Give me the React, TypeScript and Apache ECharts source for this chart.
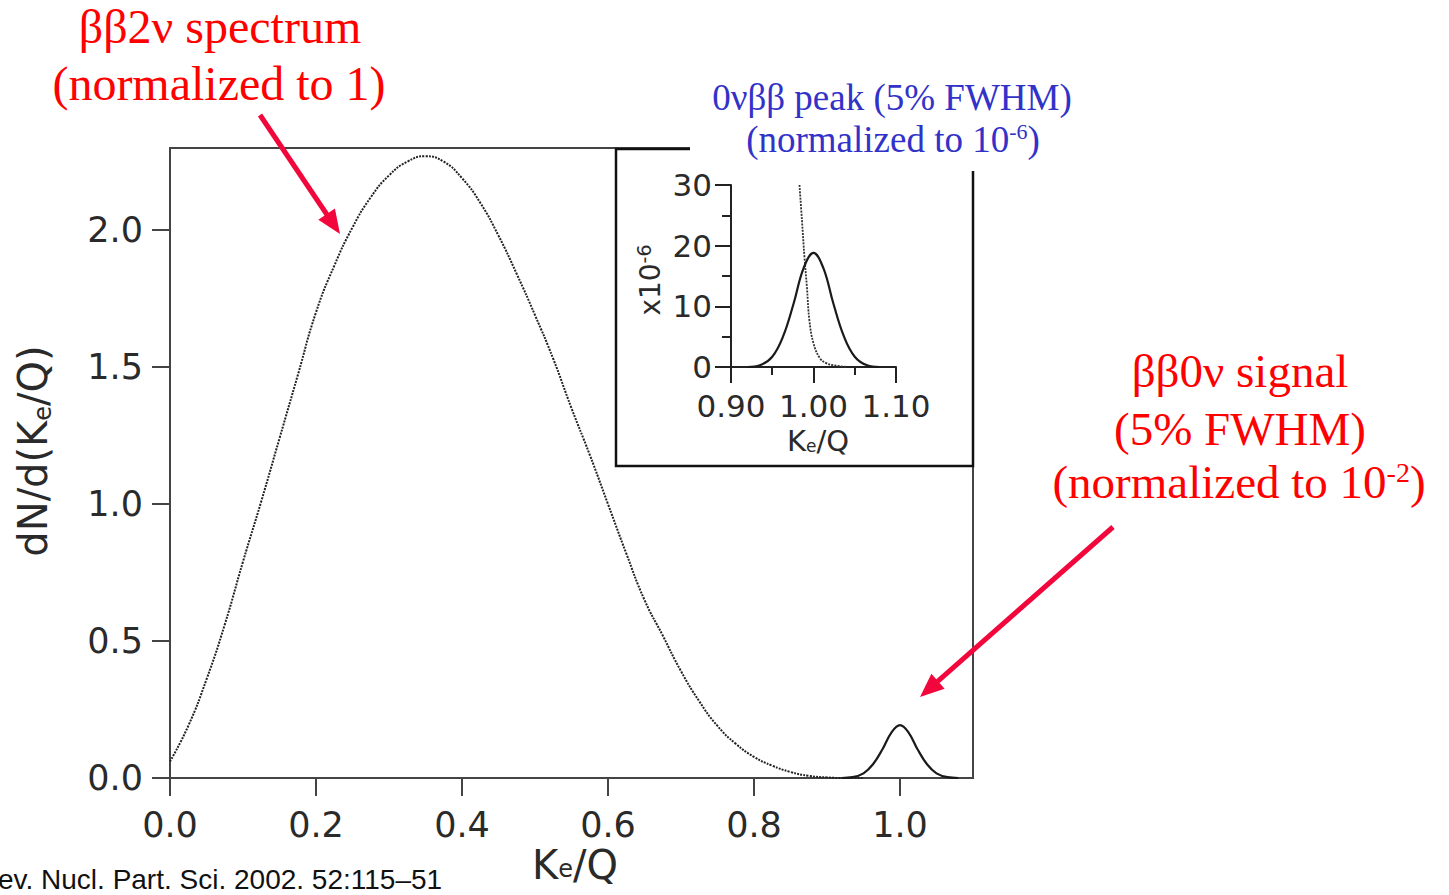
import React, { useEffect, useRef } from 'react';
import * as echarts from 'echarts';

// ββ2ν spectrum (normalized to 1)
const spectrumX = [0.0, 0.025, 0.05, 0.075, 0.1, 0.125, 0.15, 0.175, 0.2, 0.225, 0.25, 0.275, 0.3, 0.325, 0.35, 0.375, 0.4, 0.425, 0.45, 0.475, 0.5, 0.525, 0.55, 0.575, 0.6, 0.625, 0.65, 0.675, 0.7, 0.725, 0.75, 0.775, 0.8, 0.825, 0.85, 0.875, 0.9, 0.925, 0.95];
const spectrumY = [0.06, 0.19, 0.36, 0.56, 0.79, 1.01, 1.24, 1.47, 1.7, 1.87, 2.01, 2.12, 2.2, 2.25, 2.27, 2.25, 2.19, 2.1, 1.98, 1.84, 1.69, 1.53, 1.35, 1.18, 1.0, 0.82, 0.65, 0.52, 0.39, 0.28, 0.19, 0.125, 0.077, 0.045, 0.022, 0.008, 0.002, 0.0, 0.0];

// ββ0ν signal (5% FWHM, normalized to 1e-2)
const peakX = [0.92, 0.935, 0.95, 0.963, 0.976, 0.988, 1.0, 1.012, 1.024, 1.037, 1.05, 1.065, 1.08];
const peakY = [0, 0.003, 0.017, 0.05, 0.105, 0.165, 0.193, 0.165, 0.105, 0.05, 0.017, 0.003, 0];

// inset (x1e-6): 2ν tail and 0νββ peak
const insetTailX = [0.983, 0.986, 0.989, 0.992, 0.995, 1.0, 1.008, 1.016, 1.024, 1.04];
const insetTailY = [30, 24.2, 18.2, 13.2, 7.7, 3.9, 1.4, 0.6, 0.3, 0];
const insetPeakX = [0.92, 0.935, 0.95, 0.963, 0.976, 0.988, 1.0, 1.012, 1.024, 1.037, 1.05, 1.065, 1.08];
const insetPeakY = [0, 0.28, 1.7, 5.0, 10.5, 16.3, 18.8, 16.3, 10.5, 5.0, 1.7, 0.28, 0];

// tick values
const mainXTicks = [0, 0.2, 0.4, 0.6, 0.8, 1.0];
const mainYTicks = [0, 0.5, 1.0, 1.5, 2.0];
const insetXTicks = [0.9, 1.0, 1.1];
const insetXMinor = [0.95, 1.05];
const insetYTicks = [0, 10, 20, 30];
const insetYMinor = [5, 15, 25];

const zip = (xs: number[], ys: number[]) => xs.map((x, i) => [x, ys[i]]);

const SANS = 'DejaVu Sans';
const SERIF = '"Liberation Serif", "Times New Roman", serif';
const AX = '#444';
const LBL = '#2a2a2a';
const RED = '#ff0000';
const ARROW = '#f2073c';
const BLUE = '#3232c8';

function arrow(x1: number, y1: number, x2: number, y2: number) {
  const dx = x2 - x1, dy = y2 - y1;
  const len = Math.sqrt(dx * dx + dy * dy);
  const ux = dx / len, uy = dy / len;
  const hl = 24, hw = 10;
  const bx = x2 - ux * hl, by = y2 - uy * hl;
  const nx = -uy, ny = ux;
  return [
    { type: 'line', z: 120, shape: { x1, y1, x2: bx + ux * 2, y2: by + uy * 2 }, style: { stroke: ARROW, lineWidth: 5 } },
    { type: 'polygon', z: 120, shape: { points: [[x2, y2], [bx + nx * hw, by + ny * hw], [bx - nx * hw, by - ny * hw]] }, style: { fill: ARROW } },
  ];
}

function txt(x: number, y: number, text: string, size: number, fill: string, family: string, extra: any = {}) {
  return {
    type: 'text', x, y, z: 121,
    style: { text, fontSize: size, fontFamily: family, fill, align: 'center', verticalAlign: 'middle', ...extra },
  };
}

export default function App() {
  const ref = useRef<HTMLDivElement>(null);
  useEffect(() => {
    if (!ref.current) return;
    const chart = echarts.init(ref.current, null, { renderer: 'svg' });
    const axisLineStyle = { color: AX, width: 2 };
    const inkLine = { color: '#222', width: 2 };
    const option: any = {
      animation: false,
      backgroundColor: '#fff',
      grid: [
        { left: 170, top: 148, width: 803, height: 630, show: true, borderColor: AX, borderWidth: 2, backgroundColor: 'transparent' },
        { left: 731, top: 185, width: 165, height: 182, show: false },
      ],
      xAxis: [
        {
          type: 'value', gridIndex: 0, min: 0, max: 1.1, position: 'bottom',
          axisLine: { show: true, onZero: false, lineStyle: axisLineStyle },
          axisTick: { show: true, customValues: mainXTicks, length: 18, lineStyle: axisLineStyle },
          axisLabel: { customValues: mainXTicks, formatter: (v: number) => v.toFixed(1), fontSize: 35, fontFamily: SANS, color: LBL, margin: 29 },
          splitLine: { show: false },
        },
        {
          type: 'value', gridIndex: 1, min: 0.9, max: 1.1, position: 'bottom',
          axisLine: { show: true, onZero: false, lineStyle: inkLine },
          axisTick: { show: true, customValues: insetXTicks, length: 16, lineStyle: inkLine },
          axisLabel: { customValues: insetXTicks, formatter: (v: number) => v.toFixed(2), fontSize: 31, fontFamily: SANS, color: LBL, margin: 23 },
          splitLine: { show: false },
        },
        {
          type: 'value', gridIndex: 1, min: 0.9, max: 1.1, position: 'bottom', offset: 0,
          axisLine: { show: false, onZero: false },
          axisTick: { show: true, customValues: insetXMinor, length: 8, lineStyle: inkLine },
          axisLabel: { show: false },
          splitLine: { show: false },
        },
      ],
      yAxis: [
        {
          type: 'value', gridIndex: 0, min: 0, max: 2.3, position: 'left',
          axisLine: { show: true, onZero: false, lineStyle: axisLineStyle },
          axisTick: { show: true, customValues: mainYTicks, length: 18, lineStyle: axisLineStyle },
          axisLabel: { customValues: mainYTicks, formatter: (v: number) => v.toFixed(1), fontSize: 35, fontFamily: SANS, color: LBL, margin: 27 },
          splitLine: { show: false },
        },
        {
          type: 'value', gridIndex: 1, min: 0, max: 30, position: 'left',
          axisLine: { show: true, onZero: false, lineStyle: inkLine },
          axisTick: { show: true, customValues: insetYTicks, length: 16, lineStyle: inkLine },
          axisLabel: { customValues: insetYTicks, fontSize: 31, fontFamily: SANS, color: LBL, margin: 19 },
          splitLine: { show: false },
        },
        {
          type: 'value', gridIndex: 1, min: 0, max: 30, position: 'left', offset: 0,
          axisLine: { show: false, onZero: false },
          axisTick: { show: true, customValues: insetYMinor, length: 9, lineStyle: inkLine },
          axisLabel: { show: false },
          splitLine: { show: false },
        },
      ],
      series: [
        {
          name: 'ββ2ν spectrum', type: 'line', xAxisIndex: 0, yAxisIndex: 0,
          data: zip(spectrumX, spectrumY), smooth: 0.5, showSymbol: false,
          lineStyle: { color: '#222', width: 2, type: [2, 1.2] },
        },
        {
          name: 'ββ0ν signal', type: 'line', xAxisIndex: 0, yAxisIndex: 0,
          data: zip(peakX, peakY), smooth: 0.4, showSymbol: false,
          lineStyle: { color: '#1a1a1a', width: 2.2 },
        },
        {
          name: '2ν tail (inset)', type: 'line', xAxisIndex: 1, yAxisIndex: 1,
          data: zip(insetTailX, insetTailY), smooth: 0.4, showSymbol: false, clip: true,
          lineStyle: { color: '#333', width: 1.8, type: [2, 1.2] },
        },
        {
          name: '0νββ peak (inset)', type: 'line', xAxisIndex: 1, yAxisIndex: 1,
          data: zip(insetPeakX, insetPeakY), smooth: 0.4, showSymbol: false, clip: true,
          lineStyle: { color: '#1a1a1a', width: 2.2 },
        },
      ],
      graphic: [
        // inset frame
        { type: 'rect', z: 50, shape: { x: 616, y: 149, width: 357, height: 317 }, style: { fill: 'none', stroke: '#111', lineWidth: 2.5 } },
        // white box behind the blue note
        { type: 'rect', z: 100, shape: { x: 690, y: 60, width: 420, height: 111 }, style: { fill: '#fff' } },
        // axis names
        {
          type: 'text', x: 33, y: 451, rotation: Math.PI / 2, z: 121,
          style: {
            text: '{n|dN/d(K}{sub|e}{n|/Q)}', align: 'center', verticalAlign: 'middle', fill: LBL,
            rich: {
              n: { fontSize: 40, fontFamily: SANS, fill: LBL, lineHeight: 44 },
              sub: { fontSize: 24, fontFamily: SANS, fill: LBL, lineHeight: 22, verticalAlign: 'bottom' },
            },
          },
        },
        {
          type: 'text', x: 575, y: 865, z: 121,
          style: {
            text: '{n|K}{sub|e}{n|/Q}', align: 'center', verticalAlign: 'middle', fill: LBL,
            rich: {
              n: { fontSize: 40, fontFamily: SANS, fill: LBL, lineHeight: 32 },
              sub: { fontSize: 24, fontFamily: SANS, fill: LBL, lineHeight: 16, verticalAlign: 'bottom' },
            },
          },
        },
        {
          type: 'text', x: 818, y: 441, z: 121,
          style: {
            text: '{n|K}{sub|e}{n|/Q}', align: 'center', verticalAlign: 'middle', fill: LBL,
            rich: {
              n: { fontSize: 29, fontFamily: SANS, fill: LBL, lineHeight: 26 },
              sub: { fontSize: 17, fontFamily: SANS, fill: LBL, lineHeight: 12, verticalAlign: 'bottom' },
            },
          },
        },
        {
          type: 'text', x: 650, y: 280, rotation: Math.PI / 2, z: 121,
          style: {
            text: '{n|x10}{sup|-6}', align: 'center', verticalAlign: 'middle', fill: LBL,
            rich: {
              n: { fontSize: 28, fontFamily: SANS, fill: LBL, lineHeight: 32 },
              sup: { fontSize: 19, fontFamily: SANS, fill: LBL, lineHeight: 16, verticalAlign: 'top' },
            },
          },
        },
        // citation
        txt(-2, 879, 'ev. Nucl. Part. Sci. 2002. 52:115–51', 28, '#111', '"Liberation Sans", Arial, sans-serif', { align: 'left' }),
        // red note: 2ν spectrum
        txt(220, 26, 'ββ2ν spectrum', 48, RED, SERIF),
        txt(219, 83, '(normalized to 1)', 48, RED, SERIF),
        // blue note
        txt(892, 97, '0νββ peak (5% FWHM)', 37, BLUE, SERIF),
        {
          type: 'text', x: 893, y: 139, z: 121,
          style: {
            text: '{n|(normalized to 10}{sup|-6}{n|)}', align: 'center', verticalAlign: 'middle', fill: BLUE,
            rich: {
              n: { fontSize: 37, fontFamily: SERIF, fill: BLUE, lineHeight: 38 },
              sup: { fontSize: 22, fontFamily: SERIF, fill: BLUE, lineHeight: 22, verticalAlign: 'top' },
            },
          },
        },
        // red note: 0ν signal
        txt(1240, 371, 'ββ0ν signal', 47, RED, SERIF),
        txt(1240, 429, '(5% FWHM)', 47, RED, SERIF),
        {
          type: 'text', x: 1239, y: 482, z: 121,
          style: {
            text: '{n|(normalized to 10}{sup|-2}{n|)}', align: 'center', verticalAlign: 'middle', fill: RED,
            rich: {
              n: { fontSize: 47, fontFamily: SERIF, fill: RED, lineHeight: 48 },
              sup: { fontSize: 28, fontFamily: SERIF, fill: RED, lineHeight: 28, verticalAlign: 'top' },
            },
          },
        },
        ...arrow(260, 115, 340, 234),
        ...arrow(1113, 527, 920, 697),
      ],
    };
    chart.setOption(option);
    return () => chart.dispose();
  }, []);
  return <div ref={ref} style={{ position: 'fixed', left: 0, top: 0, width: 1449, height: 895, background: '#fff' }} />;
}
